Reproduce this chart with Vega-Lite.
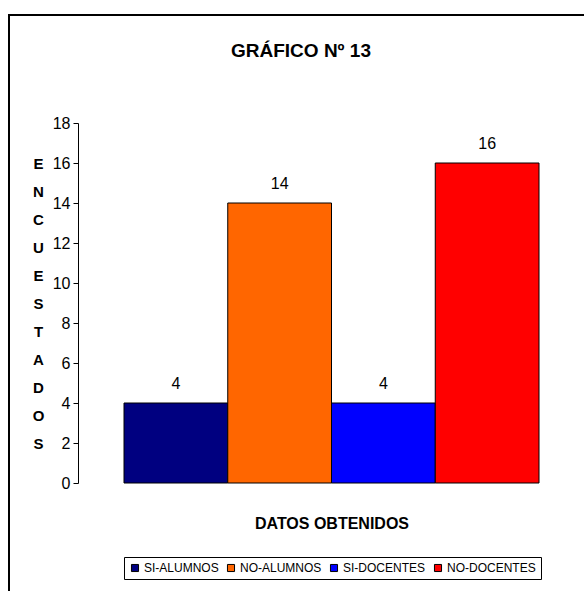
{
  "$schema": "https://vega.github.io/schema/vega-lite/v6.json",
  "width": 584,
  "height": 590,
  "autosize": {"type": "none"},
  "padding": {"left": 9, "top": 15, "right": 0, "bottom": 0},
  "background": "white",
  "title": {
    "text": "GRÁFICO Nº 13",
    "anchor": "middle",
    "frame": "group",
    "offset": -46,
    "font": "Liberation Sans",
    "fontSize": 19,
    "fontWeight": "bold",
    "color": "black"
  },
  "data": {
    "values": [
      {"category": "SI-ALUMNOS", "value": 4},
      {"category": "NO-ALUMNOS", "value": 14},
      {"category": "SI-DOCENTES", "value": 4},
      {"category": "NO-DOCENTES", "value": 16}
    ]
  },
  "encoding": {
    "x": {
      "field": "category",
      "type": "nominal",
      "sort": null,
      "scale": {"range": [115, 530], "paddingInner": 0, "paddingOuter": 0},
      "axis": {
        "orient": "bottom",
        "offset": -122,
        "labels": false,
        "ticks": false,
        "domain": false,
        "title": "DATOS OBTENIDOS",
        "titleFont": "Liberation Sans",
        "titleFontSize": 16,
        "titleFontWeight": "bold",
        "titleColor": "black",
        "titleY": 40,
        "titleBaseline": "middle"
      }
    },
    "y": {
      "field": "value",
      "type": "quantitative",
      "scale": {"domain": [0, 18], "range": [468, 108], "nice": false},
      "axis": {
        "offset": -69,
        "values": [0, 2, 4, 6, 8, 10, 12, 14, 16, 18],
        "grid": false,
        "tickSize": 5,
        "tickColor": "black",
        "domainColor": "black",
        "labelFont": "Liberation Sans",
        "labelFontSize": 16,
        "labelColor": "black",
        "labelPadding": 3,
        "title": ["E", "N", "C", "U", "E", "S", "T", "A", "D", "O", "S"],
        "titleAngle": 0,
        "titleFont": "Liberation Sans",
        "titleFontSize": 15,
        "titleFontWeight": "bold",
        "titleColor": "black",
        "titleLineHeight": 28,
        "titleAlign": "center",
        "titleBaseline": "middle",
        "titleX": -40,
        "titleY": 148
      }
    }
  },
  "layer": [
    {
      "mark": {"type": "bar", "stroke": "black", "strokeWidth": 1},
      "encoding": {
        "color": {
          "field": "category",
          "type": "nominal",
          "scale": {
            "domain": ["SI-ALUMNOS", "NO-ALUMNOS", "SI-DOCENTES", "NO-DOCENTES"],
            "range": ["#000080", "#FF6600", "#0000FF", "#FF0000"]
          },
          "legend": {
            "orient": "none",
            "legendX": 115,
            "legendY": 542,
            "direction": "horizontal",
            "columns": 4,
            "title": null,
            "symbolType": "square",
            "symbolSize": 50,
            "symbolStrokeColor": "black",
            "symbolStrokeWidth": 1,
            "labelFont": "Liberation Sans",
            "labelFontSize": 12,
            "labelColor": "black",
            "labelOffset": 3,
            "columnPadding": 6,
            "strokeColor": "black",
            "fillColor": "white",
            "padding": 5
          }
        }
      }
    },
    {
      "mark": {
        "type": "text",
        "baseline": "bottom",
        "dy": -11,
        "font": "Liberation Sans",
        "fontSize": 16,
        "color": "black"
      },
      "encoding": {
        "text": {"field": "value", "type": "quantitative"}
      }
    }
  ],
  "config": {
    "view": {"stroke": "black", "strokeWidth": 2}
  }
}
